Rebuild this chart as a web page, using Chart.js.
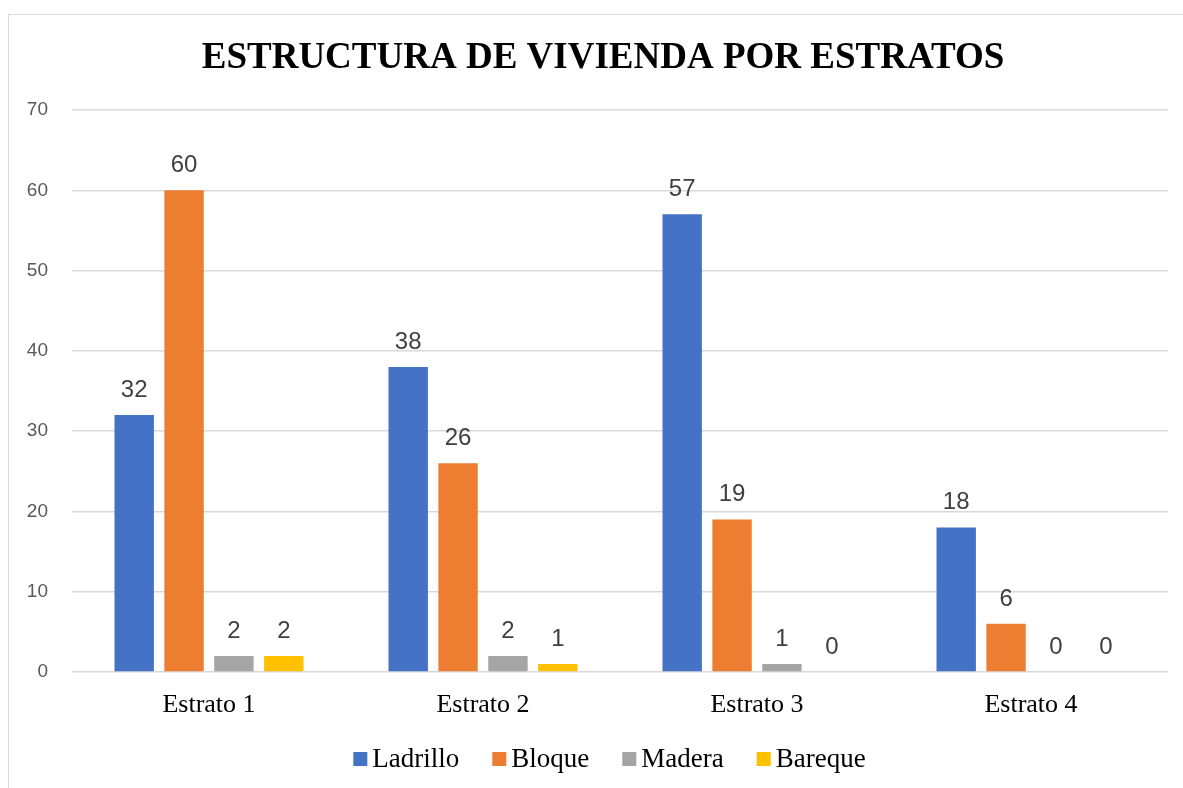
<!DOCTYPE html>
<html>
<head>
<meta charset="utf-8">
<script src="https://cdn.jsdelivr.net/npm/chart.js@4"></script>
<style>
  html, body { margin: 0; padding: 0; background: #fff; }
  #wrap { position: relative; width: 1183px; height: 788px; overflow: hidden; }
  #frame { position: absolute; left: 8px; top: 14px; width: 1200px; height: 800px; border: 1px solid #d9d9d9; box-sizing: border-box; }
  #chart { position: absolute; left: 0; top: 0; }
</style>
</head>
<body>
<div id="wrap">
  <div id="frame"></div>
  <canvas id="chart" width="1183" height="788"></canvas>
</div>
<script>
// Data
const categories = ['Estrato 1', 'Estrato 2', 'Estrato 3', 'Estrato 4'];
const ladrillo = [32, 38, 57, 18];
const bloque = [60, 26, 19, 6];
const madera = [2, 2, 1, 0];
const bareque = [2, 1, 0, 0];
const yTicks = [0, 10, 20, 30, 40, 50, 60, 70];
const titleText = 'ESTRUCTURA DE VIVIENDA POR ESTRATOS';

const serif = '"Liberation Serif", "Times New Roman", serif';
const sans = '"Liberation Sans", Arial, sans-serif';

// value above each bar
const valueLabels = {
    id: 'valueLabels',
    afterDatasetsDraw(chart) {
        const ctx = chart.ctx;
        ctx.save();
        ctx.font = '24px ' + sans;
        ctx.fillStyle = '#404040';
        ctx.textAlign = 'center';
        ctx.textBaseline = 'alphabetic';
        chart.data.datasets.forEach((ds, i) => {
            chart.getDatasetMeta(i).data.forEach((bar, j) => {
                ctx.fillText(ds.data[j], bar.x, bar.y - 18);
            });
        });
        ctx.restore();
    }
};

// title sits a bit right of the canvas centre, like the original
const chartTitle = {
    id: 'chartTitle',
    afterDraw(chart) {
        const ctx = chart.ctx;
        ctx.save();
        ctx.font = 'bold 37px ' + serif;
        ctx.fillStyle = '#000';
        ctx.textAlign = 'center';
        ctx.textBaseline = 'alphabetic';
        ctx.fillText(titleText, 603, 68);
        ctx.restore();
    }
};

// Excel-like legend: small square, tight gap, serif text
const bottomLegend = {
    id: 'bottomLegend',
    afterDraw(chart) {
        const ctx = chart.ctx;
        const box = 14, gap = 5, spacing = 33;
        ctx.save();
        ctx.font = '27px ' + serif;
        ctx.textBaseline = 'alphabetic';
        const items = chart.data.datasets.map(ds => ({ label: ds.label, color: ds.backgroundColor, w: ctx.measureText(ds.label).width }));
        let total = items.reduce((s, it) => s + box + gap + it.w, 0) + spacing * (items.length - 1);
        let x = 609.5 - total / 2;
        const baseY = 767;
        items.forEach(it => {
            ctx.fillStyle = it.color;
            ctx.fillRect(x, baseY - 15, box, box);
            ctx.fillStyle = '#000';
            ctx.fillText(it.label, x + box + gap, baseY);
            x += box + gap + it.w + spacing;
        });
        ctx.restore();
    }
};

function makeSet(label, data, color) {
    return { label: label, data: data, backgroundColor: color, borderWidth: 0 };
}

new Chart(document.getElementById('chart'), {
    type: 'bar',
    data: {
        labels: categories,
        datasets: [
            makeSet('Ladrillo', ladrillo, '#4472c4'),
            makeSet('Bloque', bloque, '#ed7d31'),
            makeSet('Madera', madera, '#a5a5a5'),
            makeSet('Bareque', bareque, '#ffc000')
        ]
    },
    options: {
        responsive: false,
        animation: false,
        categoryPercentage: 0.728,
        barPercentage: 0.79,
        layout: { padding: { left: 0, right: 15, top: 110, bottom: 66 } },
        plugins: {
            title: { display: false },
            legend: { display: false },
            tooltip: { enabled: false }
        },
        scales: {
            x: {
                grid: { display: false },
                border: { display: false },
                afterFit: (scale) => { scale.height = 50; },
                ticks: { color: '#000', font: { family: serif, size: 26 }, padding: 10 }
            },
            y: {
                min: 0,
                max: 70,
                afterBuildTicks: (scale) => { scale.ticks = yTicks.map(v => ({ value: v })); },
                afterFit: (scale) => { scale.width = 72; },
                grid: { color: '#d9d9d9', lineWidth: 1.5, drawTicks: false },
                border: { display: false },
                ticks: { color: '#595959', font: { family: sans, size: 19 }, padding: 24 }
            }
        }
    },
    plugins: [valueLabels, chartTitle, bottomLegend]
});
</script>
</body>
</html>
